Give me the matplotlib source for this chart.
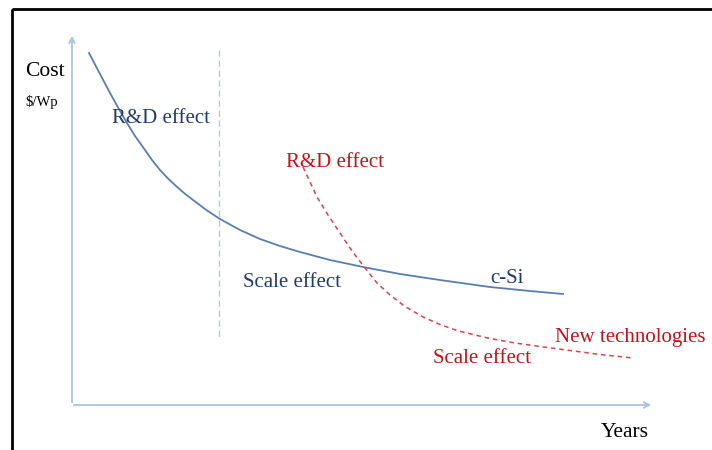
import matplotlib
matplotlib.use("Agg")
from matplotlib import pyplot as plt
from matplotlib.patches import Rectangle

# curve points (diagram pixel units, y grows downwards)
csi_x = [89, 100, 110, 120, 127, 135, 145, 152, 160, 168, 176, 184, 193, 207,
         220, 240, 260, 280, 300, 330, 363, 400, 440, 490, 530, 563]
csi_y = [53, 74, 93, 111, 123, 136, 150, 160, 170, 178.5, 186, 193, 200, 210.5,
         219, 230, 239, 246, 252, 260, 267, 274, 280, 287, 291, 294]

new_x = [303, 310, 317, 328, 340, 352, 365, 377, 390, 405, 423, 440, 457, 475,
         490, 515, 540, 570, 600, 633]
new_y = [167, 182, 197, 215, 233, 251, 268, 283, 295, 306.5, 317, 324.5, 330.5,
         335, 338.5, 343, 346.5, 350.5, 354.5, 358]

navy = "#1f3a6e"
red = "#c8101a"
axis_blue = "#a9c4e4"

plt.rcParams['font.family'] = ['Liberation Serif', 'DejaVu Serif']

fig = plt.figure(figsize=(7.12, 4.5), dpi=100)
ax = fig.add_axes([0, 0, 1, 1])
ax.set_xlim(0, 712)
ax.set_ylim(450, 0)
ax.axis('off')

# outer frame
ax.add_patch(Rectangle((12, 9), 720, 460, fill=False, edgecolor='black', lw=2))

# axes arrows
ax.annotate('', xy=(72, 33), xytext=(72, 405),
            arrowprops=dict(arrowstyle='->', color=axis_blue, lw=1.3))
ax.annotate('', xy=(654, 405), xytext=(71, 405),
            arrowprops=dict(arrowstyle='->', color=axis_blue, lw=1.3))

# separator
ax.plot([219, 219], [50, 338], color='#b0c0d8', lw=0.9, ls=(0, (5, 3)))

ax.plot(csi_x, csi_y, color='#5b7fad', lw=1.3)
ax.plot(new_x, new_y, color='#e0404a', lw=1.1, ls=(0, (3, 2.5)))

ax.text(25, 76, "Cost", fontsize=15.5, va='baseline', color='black')
ax.text(25, 106, "$/Wp", fontsize=10.5, va='baseline', color='black')
ax.text(601, 437, "Years", fontsize=15.5, va='baseline', color='black')

fs = 15
ax.text(112, 123, "R&D effect", fontsize=fs, va='baseline', color=navy)
ax.text(243, 287, "Scale effect", fontsize=fs, va='baseline', color=navy)
ax.text(490, 283, "c-Si", fontsize=fs, va='baseline', color=navy)

ax.text(286, 167, "R&D effect", fontsize=fs, va='baseline', color=red)
ax.text(555, 342, "New technologies", fontsize=fs, va='baseline', color=red)
ax.text(433, 363, "Scale effect", fontsize=fs, va='baseline', color=red)

fig.savefig("out.png", dpi=100)
